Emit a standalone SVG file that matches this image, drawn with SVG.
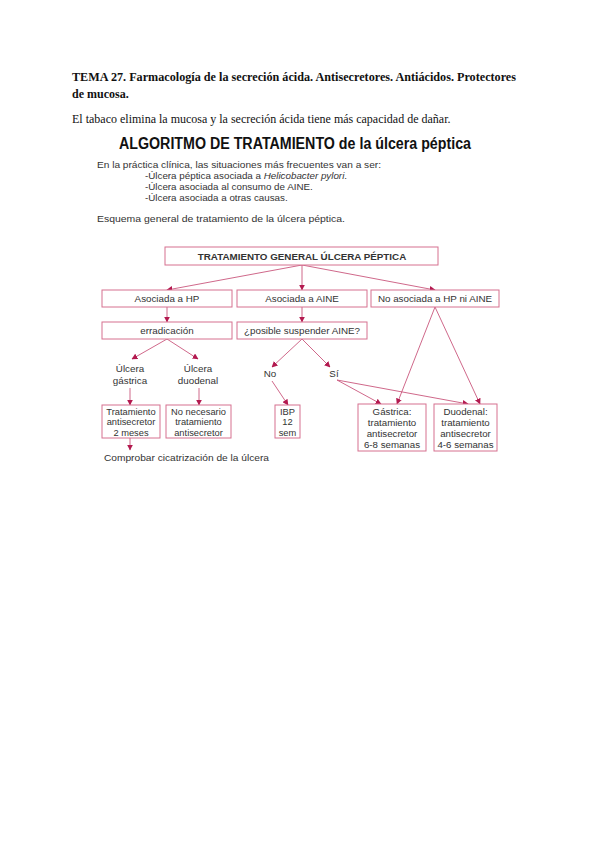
<svg xmlns="http://www.w3.org/2000/svg" width="599" height="848" viewBox="0 0 599 848">
<defs>
<marker id="ah" viewBox="0 0 10 10" refX="9" refY="5" markerWidth="6" markerHeight="6" orient="auto" markerUnits="userSpaceOnUse">
<path d="M0,0 L10,5 L0,10 z" fill="#b3194f"/>
</marker>
<style>
.hdr{font-family:"Liberation Serif","Times New Roman",serif;font-size:12px;fill:#111}
.b{font-weight:bold}
.ttl{font-family:"Liberation Sans",Arial,sans-serif;font-size:16px;font-weight:bold;fill:#111}
.t{font-family:"Liberation Sans",Arial,sans-serif;font-size:9.8px;fill:#333}
.s{font-size:9.3px}
.m{font-size:9.7px}
.tc{text-anchor:middle}
.box{fill:#fff;stroke:#d6718f;stroke-width:1}
.ln{stroke:#c9577d;stroke-width:0.9;fill:none;marker-end:url(#ah)}
</style>
</defs>
<rect width="599" height="848" fill="#fff"/>
<g id="header">
<text class="hdr b" x="72" y="81" textLength="444" lengthAdjust="spacingAndGlyphs">TEMA 27. Farmacología de la secreción ácida. Antisecretores. Antiácidos. Protectores</text>
<text class="hdr b" x="72" y="98">de mucosa.</text>
<text class="hdr" x="72" y="123">El tabaco elimina la mucosa y la secreción ácida tiene más capacidad de dañar.</text>
<text class="ttl" x="119" y="149" textLength="352" lengthAdjust="spacingAndGlyphs">ALGORITMO DE TRATAMIENTO de la úlcera péptica</text>
<text class="t" x="97" y="168" textLength="284" lengthAdjust="spacingAndGlyphs">En la práctica clínica, las situaciones más frecuentes van a ser:</text>
<text class="t" x="145" y="179">-Úlcera péptica asociada a <tspan font-style="italic">Helicobacter pylori</tspan>.</text>
<text class="t" x="145" y="190">-Úlcera asociada al consumo de AINE.</text>
<text class="t" x="145" y="201">-Úlcera asociada a otras causas.</text>
<text class="t" x="97" y="222" textLength="248" lengthAdjust="spacingAndGlyphs">Esquema general de tratamiento de la úlcera péptica.</text>
</g>
<g id="connectors">
<line class="ln" x1="302" y1="265" x2="167" y2="290"/>
<line class="ln" x1="302" y1="265" x2="302" y2="290"/>
<line class="ln" x1="302" y1="265" x2="435" y2="290"/>
<line class="ln" x1="167" y1="307" x2="167" y2="322"/>
<line class="ln" x1="302" y1="307" x2="302" y2="322"/>
<line class="ln" x1="167" y1="339" x2="132" y2="359"/>
<line class="ln" x1="167" y1="339" x2="198" y2="359"/>
<line class="ln" x1="130" y1="388" x2="130" y2="405"/>
<line class="ln" x1="199" y1="388" x2="199" y2="405"/>
<line class="ln" x1="302" y1="339" x2="272" y2="367"/>
<line class="ln" x1="302" y1="339" x2="330" y2="367"/>
<line class="ln" x1="272" y1="381" x2="288" y2="405"/>
<line class="ln" x1="337" y1="380" x2="381" y2="404"/>
<line class="ln" x1="337" y1="380" x2="468" y2="404"/>
<line class="ln" x1="435" y1="307" x2="397" y2="404"/>
<line class="ln" x1="435" y1="307" x2="480" y2="404"/>
<line class="ln" x1="130" y1="438" x2="130" y2="450"/>
</g>
<g id="n-top"><rect class="box" x="165" y="247" width="273" height="18"/><text class="t tc b" x="302" y="259.5">TRATAMIENTO GENERAL ÚLCERA PÉPTICA</text></g>
<g id="n-hp"><rect class="box" x="102" y="290" width="130" height="17"/><text class="t tc" x="167" y="302">Asociada a HP</text></g>
<g id="n-aine"><rect class="box" x="237" y="290" width="130" height="17"/><text class="t tc" x="302" y="302">Asociada a AINE</text></g>
<g id="n-no"><rect class="box" x="371" y="290" width="128" height="17"/><text class="t tc" x="435" y="302">No asociada a HP ni AINE</text></g>
<g id="n-erra"><rect class="box" x="102" y="322" width="130" height="17"/><text class="t tc" x="167" y="334">erradicación</text></g>
<g id="n-posible"><rect class="box" x="237" y="322" width="130" height="17"/><text class="t tc" x="302" y="334">¿posible suspender AINE?</text></g>
<g id="n-ugas"><text class="t tc" x="130" y="372">Úlcera</text><text class="t tc" x="130" y="384">gástrica</text></g>
<g id="n-uduo"><text class="t tc" x="198" y="372">Úlcera</text><text class="t tc" x="198" y="384">duodenal</text></g>
<g id="n-nolbl"><text class="t tc" x="270" y="377">No</text></g>
<g id="n-si"><text class="t tc" x="334" y="377">Sí</text></g>
<g id="n-trat"><rect class="box" x="102" y="405" width="58" height="33"/><text class="t s tc" x="131" y="414.5">Tratamiento</text><text class="t s tc" x="131" y="425">antisecretor</text><text class="t s tc" x="131" y="435.5">2 meses</text></g>
<g id="n-nonec"><rect class="box" x="166" y="405" width="65" height="33"/><text class="t s tc" x="198.5" y="414.5">No necesario</text><text class="t s tc" x="198.5" y="425">tratamiento</text><text class="t s tc" x="198.5" y="435.5">antisecretor</text></g>
<g id="n-ibp"><rect class="box" x="275" y="405" width="25" height="33"/><text class="t s tc" x="287.5" y="414.5">IBP</text><text class="t s tc" x="287.5" y="425">12</text><text class="t s tc" x="287.5" y="435.5">sem</text></g>
<g id="n-gas"><rect class="box" x="358" y="404" width="68" height="47"/><text class="t m tc" x="392" y="415">Gástrica:</text><text class="t m tc" x="392" y="426">tratamiento</text><text class="t m tc" x="392" y="437">antisecretor</text><text class="t m tc" x="392" y="448">6-8 semanas</text></g>
<g id="n-duo"><rect class="box" x="434" y="404" width="63" height="47"/><text class="t m tc" x="465.5" y="415">Duodenal:</text><text class="t m tc" x="465.5" y="426">tratamiento</text><text class="t m tc" x="465.5" y="437">antisecretor</text><text class="t m tc" x="465.5" y="448">4-6 semanas</text></g>
<g id="n-comp"><text class="t" x="104" y="461" textLength="165" lengthAdjust="spacingAndGlyphs">Comprobar cicatrización de la úlcera</text></g>
</svg>
